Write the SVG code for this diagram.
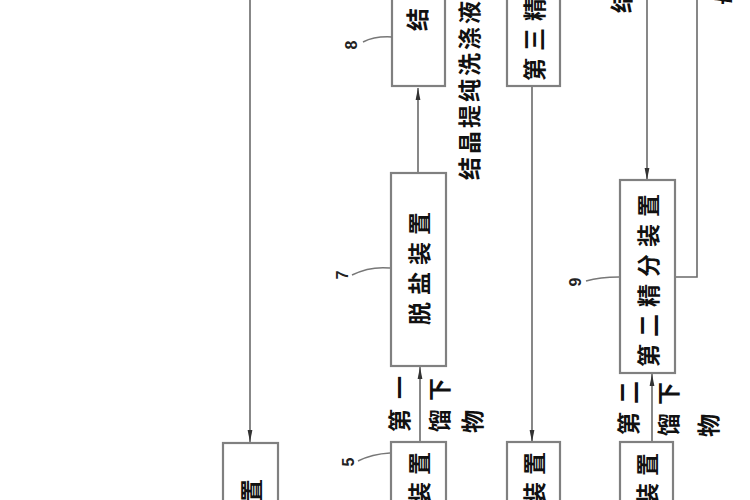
<svg xmlns="http://www.w3.org/2000/svg" width="750" height="500" viewBox="0 0 750 500">
<style>
.box{fill:#fff;stroke:#808080;stroke-width:2.2}
.ln{fill:none;stroke:#6a6a6a;stroke-width:1.6}
.ld{fill:none;stroke:#777;stroke-width:1.5}
.t{font-family:"Noto Sans CJK SC","Noto Sans",sans-serif;font-weight:bold;font-size:23px;fill:#111;dominant-baseline:central}
.n{font-family:"Liberation Sans",sans-serif;font-weight:bold;font-size:16px;fill:#222;dominant-baseline:central;text-anchor:middle}
</style>
<defs>
<marker id="ah" viewBox="0 0 12 6" refX="12" refY="3" markerWidth="12" markerHeight="6" markerUnits="userSpaceOnUse" orient="auto">
<path d="M0,0.6 L12,3 L0,5.4 Z" fill="#333"/>
</marker>
</defs>
<rect width="750" height="500" fill="#fff"/>

<g id="connectors">
<line class="ln" x1="250" y1="0" x2="250" y2="442" marker-end="url(#ah)"/>
<line class="ln" x1="532" y1="86" x2="532" y2="442" marker-end="url(#ah)"/>
<line class="ln" x1="418" y1="173" x2="418" y2="88" marker-end="url(#ah)"/>
<line class="ln" x1="420" y1="442" x2="420" y2="367" marker-end="url(#ah)"/>
<line class="ln" x1="652" y1="442" x2="652" y2="374" marker-end="url(#ah)"/>
<line class="ln" x1="647" y1="0" x2="647" y2="180" marker-end="url(#ah)"/>
<polyline class="ln" points="697,0 697,277 675,277"/>
</g>

<g id="node8">
<rect class="box" x="392" y="-10" width="53" height="96"/>
<text class="t" letter-spacing="7" transform="translate(416,31) rotate(-90)">结晶装置</text>
<path class="ld" d="M392,37 Q375,36 363,42"/>
<text class="n" transform="translate(351,45) rotate(-90)">8</text>
</g>

<g id="node3">
<rect class="box" x="507" y="-10" width="53" height="96"/>
<text class="t" letter-spacing="7" transform="translate(533,81) rotate(-90)">第三精分装置</text>
</g>

<g id="label-top">
<text class="t" letter-spacing="3" transform="translate(468,180) rotate(-90)">结晶提纯洗涤液</text>
<text class="t" transform="translate(620,13) rotate(-90)">结晶母液</text>
<text class="t" transform="translate(723,5) rotate(-90)">母液</text>
</g>

<g id="node7">
<rect class="box" x="391" y="173" width="55" height="193"/>
<text class="t" letter-spacing="7" text-anchor="middle" transform="translate(418,265) rotate(-90)">脱盐装置</text>
<path class="ld" d="M390,268 Q370,266 352,275"/>
<text class="n" transform="translate(342,275) rotate(-90)">7</text>
</g>

<g id="node9">
<rect class="box" x="620" y="180" width="55" height="193"/>
<text class="t" letter-spacing="7" text-anchor="middle" transform="translate(647,277) rotate(-90)">第二精分装置</text>
<path class="ld" d="M619,277 Q600,277 586,281"/>
<text class="n" transform="translate(575,282) rotate(-90)">9</text>
</g>

<g id="labels-bottom">
<text class="t" letter-spacing="10" transform="translate(398,432) rotate(-90)">第一</text>
<text class="t" letter-spacing="8" transform="translate(438,432) rotate(-90)">馏下</text>
<text class="t" transform="translate(471,433) rotate(-90)">物</text>
<text class="t" letter-spacing="8" transform="translate(627,435) rotate(-90)">第二</text>
<text class="t" letter-spacing="8" transform="translate(667,436) rotate(-90)">馏下</text>
<text class="t" transform="translate(707,437) rotate(-90)">物</text>
</g>

<g id="nodeA">
<rect class="box" x="223" y="443" width="55" height="70"/>
<text class="t" letter-spacing="7" transform="translate(250,592) rotate(-90)">第一装置</text>
</g>

<g id="node5">
<rect class="box" x="391" y="442" width="55" height="70"/>
<text class="t" letter-spacing="7" transform="translate(418,565) rotate(-90)">第一装置</text>
<path class="ld" d="M390,453 Q372,454 358,461"/>
<text class="n" transform="translate(348,462) rotate(-90)">5</text>
</g>

<g id="nodeC">
<rect class="box" x="507" y="442" width="53" height="70"/>
<text class="t" letter-spacing="7" transform="translate(533,565) rotate(-90)">第二装置</text>
</g>

<g id="nodeD">
<rect class="box" x="620" y="442" width="53" height="70"/>
<text class="t" letter-spacing="7" transform="translate(646,566) rotate(-90)">第二装置</text>
</g>
</svg>
